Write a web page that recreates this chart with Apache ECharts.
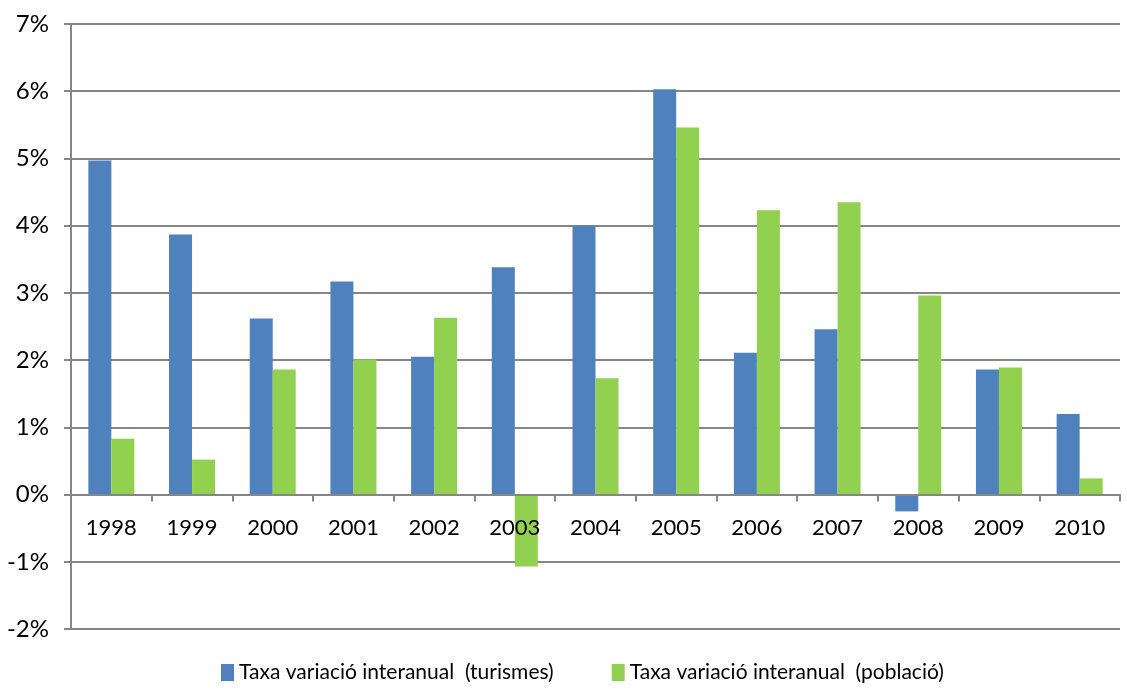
<!DOCTYPE html>
<html>
<head>
<meta charset="utf-8">
<script src="https://cdn.jsdelivr.net/npm/echarts@6/dist/echarts.min.js"></script>
<style>
  html, body { margin: 0; padding: 0; background: #fff; }
  #chart { width: 1127px; height: 691px; }
</style>
</head>
<body>
<div id="chart"></div>
<script>
const years = ["1998", "1999", "2000", "2001", "2002", "2003", "2004", "2005", "2006", "2007", "2008", "2009", "2010"];
const turismes = [4.97, 3.87, 2.62, 3.17, 2.05, 3.38, 4.0, 6.03, 2.11, 2.46, -0.25, 1.86, 1.2];
const poblacio = [0.83, 0.52, 1.86, 2.01, 2.63, -1.07, 1.73, 5.46, 4.23, 4.35, 2.96, 1.89, 0.24];
const seriesNames = ["Taxa variació interanual  (turismes)", "Taxa variació interanual  (població)"];

const chart = echarts.init(document.getElementById("chart"));
const font = "Lato, 'Open Sans', sans-serif";
const gridBottom = 62;

chart.setOption({
  animation: false,
  color: ["#4F81BD", "#92D050"],
  textStyle: { fontFamily: font },
  grid: { left: 71, right: 7, top: 24, bottom: gridBottom },
  legend: {
    bottom: 3,
    left: 216,
    itemWidth: 13,
    itemHeight: 17,
    itemGap: 58,
    icon: "rect",
    textStyle: { fontSize: 21, color: "#000", fontFamily: font },
    data: seriesNames,
  },
  xAxis: [
    {
      type: "category",
      data: years,
      z: 5,
      axisLine: { onZero: true, lineStyle: { color: "#868686", width: 2 } },
      axisTick: { show: true, length: 7, lineStyle: { color: "#868686", width: 2 } },
      axisLabel: { show: false },
    },
    {
      // labels follow the zero line, like the original
      type: "category",
      data: years,
      position: "bottom",
      offset: 0,
      z: 5,
      axisLine: { show: false, onZero: false },
      axisTick: { show: false },
      axisLabel: { fontSize: 22, color: "#000", margin: 22, fontFamily: font },
    },
  ],
  yAxis: {
    type: "value",
    min: -2,
    max: 7,
    interval: 1,
    axisLine: { show: true, lineStyle: { color: "#868686", width: 2 } },
    axisTick: { show: true, length: 7, lineStyle: { color: "#868686", width: 2 } },
    splitLine: { lineStyle: { color: "#868686", width: 2 } },
    axisLabel: {
      fontSize: 24,
      color: "#000",
      margin: 22,
      fontFamily: font,
      formatter: (v) => v + "%",
    },
  },
  series: [
    { name: seriesNames[0], type: "bar", data: turismes, barWidth: 23, barGap: "0%" },
    { name: seriesNames[1], type: "bar", data: poblacio, barWidth: 23, barGap: "0%" },
  ],
});

// move the label axis up to the 0% line
const zeroY = chart.convertToPixel({ yAxisIndex: 0 }, 0);
const bottomY = chart.getHeight() - gridBottom;
chart.setOption({ xAxis: [{}, { offset: zeroY - bottomY }] });
</script>
</body>
</html>
